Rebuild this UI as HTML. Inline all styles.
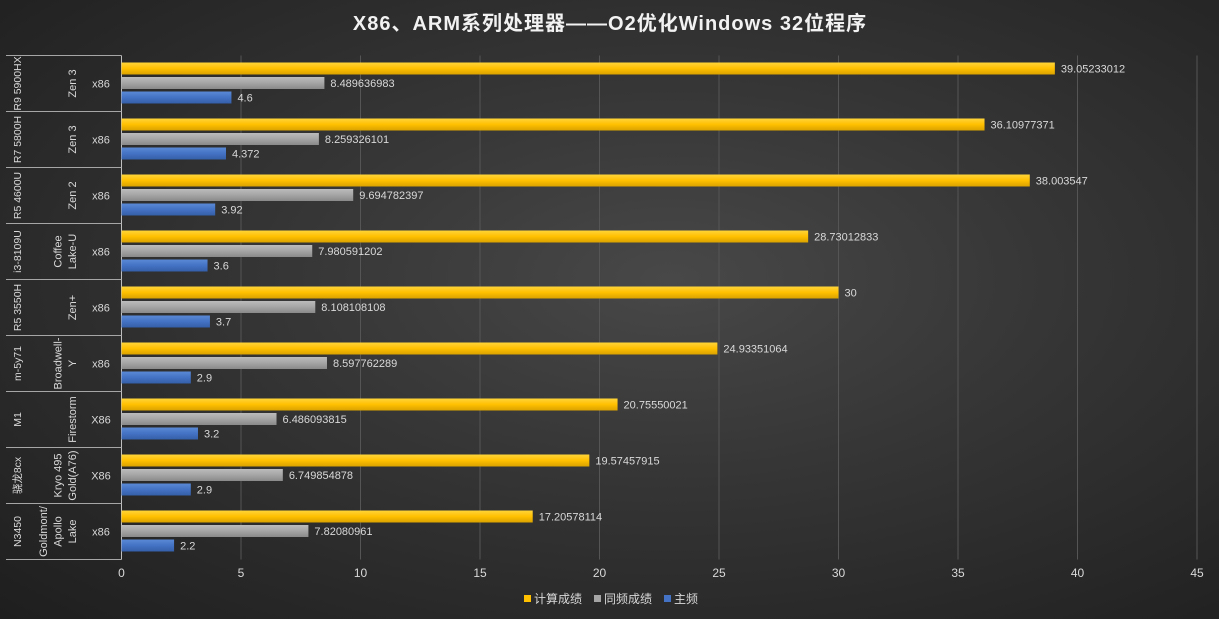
<!DOCTYPE html>
<html><head><meta charset="utf-8"><style>
body{margin:0;width:1219px;height:619px;overflow:hidden;background:radial-gradient(ellipse at 55% 45%,#484848 0%,#363636 40%,#242424 85%,#1e1e1e 100%);font-family:"Liberation Sans","Noto Sans CJK SC",sans-serif;}
svg{position:absolute;left:0;top:0}
</style></head><body>
<svg id="c" width="1219" height="619">
<defs>
<linearGradient id="gy" x1="0" y1="0" x2="0" y2="1"><stop offset="0" stop-color="#ffd43a"/><stop offset="0.5" stop-color="#ffc000"/><stop offset="1" stop-color="#d9a200"/></linearGradient>
<linearGradient id="gg" x1="0" y1="0" x2="0" y2="1"><stop offset="0" stop-color="#bcbcbc"/><stop offset="0.5" stop-color="#a5a5a5"/><stop offset="1" stop-color="#8a8a8a"/></linearGradient>
<linearGradient id="gb" x1="0" y1="0" x2="0" y2="1"><stop offset="0" stop-color="#5a8ad6"/><stop offset="0.5" stop-color="#4472c4"/><stop offset="1" stop-color="#345ea8"/></linearGradient>
</defs>
<text x="610" y="30" text-anchor="middle" fill="#f2f2f2" font-size="20" font-weight="bold" letter-spacing="1">X86、ARM系列处理器——O2优化Windows 32位程序</text>
<g id="grid"></g><g id="bars"></g><g id="labels"></g>
<g font-size="12" fill="#d9d9d9">
<rect x="524" y="595" width="7" height="7" fill="#ffc000"/>
<text x="534" y="603">计算成绩</text>
<rect x="594" y="595" width="7" height="7" fill="#a5a5a5"/>
<text x="604" y="603">同频成绩</text>
<rect x="664" y="595" width="7" height="7" fill="#4472c4"/>
<text x="674" y="603">主频</text>
</g>
</svg>
<script>
const cpus=["R9 5900HX","R7 5800H","R5 4600U","i3-8109U","R5 3550H","m-5y71","M1","骁龙8cx","N3450"];
const archs=[["Zen 3"],["Zen 3"],["Zen 2"],["Coffee","Lake-U"],["Zen+"],["Broadwell-","Y"],["Firestorm"],["Kryo 495","Gold(A76)"],["Goldmont/","Apollo","Lake"]];
const isas=["x86","x86","x86","x86","x86","x86","X86","X86","x86"];
const compute=[39.05233012,36.10977371,38.003547,28.73012833,30,24.93351064,20.75550021,19.57457915,17.20578114];
const sameFreq=[8.489636983,8.259326101,9.694782397,7.980591202,8.108108108,8.597762289,6.486093815,6.749854878,7.82080961];
const freq=[4.6,4.372,3.92,3.6,3.7,2.9,3.2,2.9,2.2];
const ticks=[0,5,10,15,20,25,30,35,40,45];
const NS="http://www.w3.org/2000/svg";
const x0=121.5,x1=1197,yTop=55.5,yBot=559.5,xmax=45;
const X=v=>x0+v/xmax*(x1-x0);
const band=(yBot-yTop)/cpus.length;
function mk(t,a,p){const e=document.createElementNS(NS,t);for(const k in a)e.setAttribute(k,a[k]);p.appendChild(e);return e;}
const grid=document.getElementById('grid'),bars=document.getElementById('bars'),labels=document.getElementById('labels');
ticks.forEach(t=>{
 if(t>0){const l=mk('line',{x1:X(t),x2:X(t),y1:yTop,y2:yBot,stroke:'#555','stroke-width':1},grid);
 
 }
 const tx=mk('text',{x:X(t),y:577,'text-anchor':'middle',fill:'#d9d9d9','font-size':12},grid);tx.textContent=t;
 
 
});
const ax=mk('line',{x1:x0,x2:x0,y1:yTop,y2:yBot,stroke:'#bfbfbf'},grid);


const series=[[compute,'url(#gy)',13,'compute'],[sameFreq,'url(#gg)',27.5,'samefreq'],[freq,'url(#gb)',42,'freq']];
cpus.forEach((c,i)=>{
 const y=yTop+i*band;
 series.forEach(([arr,fill,off,nm])=>{
  const r=mk('rect',{x:x0,y:y+off-6,width:X(arr[i])-x0,height:12,fill:fill},bars);
  
  
  const t=mk('text',{x:X(arr[i])+6,y:y+off+4,fill:'#d9d9d9','font-size':11},bars);t.textContent=String(arr[i]);
  
  
 });
 const sl=mk('line',{x1:6,x2:x0,y1:y,y2:y,stroke:'#a6a6a6'},labels);
 
 
 const cy=y+band/2;
 const t1=mk('text',{x:0,y:0,transform:`translate(21,${cy}) rotate(-90)`,'text-anchor':'middle',fill:'#d9d9d9','font-size':10.5},labels);t1.textContent=c;
 
 
 const lines=archs[i],n=lines.length,lh=14.5;
 lines.forEach((s,j)=>{
  const xx=76-(n-1-j)*lh;
  const t2=mk('text',{x:0,y:0,transform:`translate(${xx},${cy}) rotate(-90)`,'text-anchor':'middle',fill:'#d9d9d9','font-size':11},labels);t2.textContent=s;
  
  
 });
 const t3=mk('text',{x:101,y:cy+4,'text-anchor':'middle',fill:'#d9d9d9','font-size':11},labels);t3.textContent=isas[i];
 
 
});
const bl=mk('line',{x1:6,x2:x0,y1:yBot,y2:yBot,stroke:'#a6a6a6'},labels);


</script>
</body></html>
